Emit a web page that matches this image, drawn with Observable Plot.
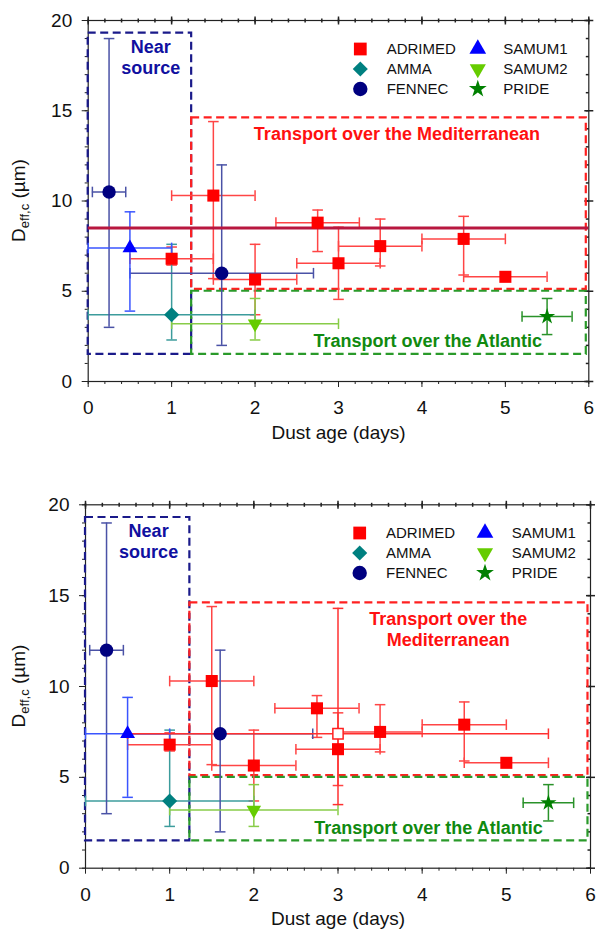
<!DOCTYPE html>
<html><head><meta charset="utf-8">
<script src="https://cdn.jsdelivr.net/npm/d3@7"></script>
<script src="https://cdn.jsdelivr.net/npm/@observablehq/plot@0.6"></script>
<style>
body{margin:0;background:#fff;}
#wrap{position:relative;width:611px;height:940px;font-family:"Liberation Sans",Arial,sans-serif;}
#wrap svg{display:block;}
</style></head><body><div id="wrap"></div>
<script>
// ---------------- data ----------------
const campaigns = ["ADRIMED","AMMA","FENNEC","SAMUM1","SAMUM2","PRIDE"];
const xMajorTicks = [0,1,2,3,4,5,6];
const yMajorTicks = [0,5,10,15,20];
const xMinorTicks = d3.range(0, 30.5, 1).map(i => i / 5);
const yMinorTicks = d3.range(0, 21, 1);

// ADRIMED
const adrimedAge    = [1, 1.5, 2, 2.75, 3, 3.5, 4.5, 5];
const adrimedAgeMin = [0.5, 1, 1.5, 2.25, 2.5, 3, 4, 4.5];
const adrimedAgeMax = [1.5, 2, 2.5, 3.25, 3.5, 4, 5, 5.5];
const adrimedD      = [6.8, 10.3, 5.65, 8.8, 6.55, 7.5, 7.9, 5.8];
const adrimedDMin   = [6.45, 5.7, 3.7, 7.2, 4.55, 6.4, 5.9, 5.8];
const adrimedDMax   = [7.45, 14.4, 7.6, 9.5, 8.55, 9.0, 9.15, 5.8];
// AMMA
const ammaAge = [1], ammaAgeMin = [0], ammaAgeMax = [2];
const ammaD = [3.7], ammaDMin = [2.3], ammaDMax = [7.6];
// FENNEC
const fennecAge = [0.25, 1.6], fennecAgeMin = [0.05, 0.5], fennecAgeMax = [0.45, 2.7];
const fennecDTop = [10.5, 6.0];
const fennecDBottom = [12.0, 7.4];
const fennecDMin = [3.0, 2.0], fennecDMax = [19.0, 12.0];
// SAMUM1
const samum1Age = [0.5], samum1AgeMin = [0], samum1AgeMax = [1];
const samum1D = [7.4], samum1DMin = [3.9], samum1DMax = [9.4];
// SAMUM2
const samum2Age = [2], samum2AgeMin = [1], samum2AgeMax = [3];
const samum2D = [3.2], samum2DMin = [2.3], samum2DMax = [4.6];
// PRIDE
const prideAge = [5.5], prideAgeMin = [5.2], prideAgeMax = [5.8];
const prideD = [3.6], prideDMin = [2.6], prideDMax = [4.6];
// ADRIMED mean (bottom panel, open square) and reference line (top panel)
const meanAge = [3], meanAgeMin = [0.5], meanAgeMax = [5.5];
const meanD = [7.4], meanDMin = [3.5], meanDMax = [14.3];
const referenceD = [8.5];

// regions (dashed boxes)
const regionAgeStart = [0, 1.24, 1.24];
const regionAgeEnd   = [1.24, 5.97, 5.97];
const regionDLow     = [1.5, 5.1, 1.5];
const regionDHigh    = [19.3, 14.6, 5.0];
// region labels
const regionTextTop    = ["Near\nsource", "Transport over the Mediterranean", "Transport over the Atlantic"];
const regionTextBottom = ["Near\nsource", "Transport over the\nMediterranean", "Transport over the Atlantic"];
const textAgeTop = [0.75, 3.70, 4.07], textDTop = [18, 13.74, 2.27];
const textAgeBottom = [0.75, 4.31, 4.075], textDBottom = [18, 13.2, 2.26];

// ---------------- styles ----------------
const FONT = '"Liberation Sans", Arial, sans-serif';
const regionStroke = ["#1a1a8a", "#ff2020", "#2a9a2a"];
const regionTextColor = ["#1010a0", "#ff1010", "#108a10"];

const hcap = {draw(c, s){ const r = Math.sqrt(s/Math.PI); c.moveTo(-r,0); c.lineTo(r,0); }};
const vcap = {draw(c, s){ const r = Math.sqrt(s/Math.PI); c.moveTo(0,-r); c.lineTo(0,r); }};
const hIn  = {draw(c, s){ const r = Math.sqrt(s/Math.PI); c.moveTo(-r,0); c.lineTo(0,0); }};
const triDown = {draw(c, s){
  const y = -Math.sqrt(s / (3*Math.sqrt(3)));
  c.moveTo(0, -2*y); c.lineTo(-Math.sqrt(3)*y, y); c.lineTo(Math.sqrt(3)*y, y); c.closePath();
}};

function rows(age, ageMin, ageMax, d, dMin, dMax){
  return age.map((a,i)=>({age:a, ageMin:ageMin[i], ageMax:ageMax[i], d:d[i], dMin:dMin[i], dMax:dMax[i]}));
}

function seriesFor(bottom){
  return [
    {name:"ADRIMED", rows: rows(adrimedAge, adrimedAgeMin, adrimedAgeMax, adrimedD, adrimedDMin, adrimedDMax),
      symbol:"square", d3sym:d3.symbolSquare, r:6.8, fill:"#ff0000", err:"#ff4545"},
    {name:"AMMA", rows: rows(ammaAge, ammaAgeMin, ammaAgeMax, ammaD, ammaDMin, ammaDMax),
      symbol:"diamond2", d3sym:d3.symbolDiamond2, r:6.8, fill:"#008080", err:"#3c9c9c"},
    {name:"FENNEC", rows: rows(fennecAge, fennecAgeMin, fennecAgeMax, bottom ? fennecDBottom : fennecDTop, fennecDMin, fennecDMax),
      symbol:"circle", d3sym:d3.symbolCircle, r:6.7, fill:"#000080", err:"#4a52a6"},
    {name:"SAMUM1", rows: rows(samum1Age, samum1AgeMin, samum1AgeMax, samum1D, samum1DMin, samum1DMax),
      symbol:"triangle", d3sym:d3.symbolTriangle, r:5.5, fill:"#0000ff", err:"#3a55ff"},
    {name:"SAMUM2", rows: rows(samum2Age, samum2AgeMin, samum2AgeMax, samum2D, samum2DMin, samum2DMax),
      symbol:triDown, d3sym:triDown, r:5.4, fill:"#66cc00", err:"#88cc48"},
    {name:"PRIDE", rows: rows(prideAge, prideAgeMin, prideAgeMax, prideD, prideDMin, prideDMax),
      symbol:"star", d3sym:d3.symbolStar, r:5.1, fill:"#008000", err:"#2a922a"}
  ];
}

function errorMarks(data, color, width){
  const v = data.filter(d => d.dMax > d.dMin);
  const h = data.filter(d => d.ageMax > d.ageMin);
  return [
    Plot.ruleX(v, {x:"age", y1:"dMin", y2:"dMax", stroke:color, strokeWidth:width}),
    Plot.ruleY(h, {y:"d", x1:"ageMin", x2:"ageMax", stroke:color, strokeWidth:width}),
    Plot.dot(v, {x:"age", y:"dMax", symbol:hcap, r:5.3, stroke:color, fill:"none", strokeWidth:width}),
    Plot.dot(v, {x:"age", y:"dMin", symbol:hcap, r:5.3, stroke:color, fill:"none", strokeWidth:width}),
    Plot.dot(h, {x:"ageMin", y:"d", symbol:vcap, r:5.3, stroke:color, fill:"none", strokeWidth:width}),
    Plot.dot(h, {x:"ageMax", y:"d", symbol:vcap, r:5.3, stroke:color, fill:"none", strokeWidth:width})
  ];
}

function panel(cfg){
  const series = seriesFor(cfg.bottom);
  const regions = regionAgeStart.map((a,i)=>({x1:a, x2:regionAgeEnd[i], y1:regionDLow[i], y2:regionDHigh[i], i}));
  const texts = cfg.texts.map((t,i)=>({t, x:cfg.tx[i], y:cfg.ty[i], i}));
  const marks = [
    Plot.frame({stroke:"#222", strokeWidth:1.2}),
    Plot.axisX(xMajorTicks, {anchor:"bottom", tickSize:6, tickPadding:13, fontSize:19, label:null, stroke:"#222", fill:"#111"}),
    Plot.axisX(xMinorTicks, {anchor:"bottom", tickSize:3, tickFormat:()=>"", label:null, stroke:"#222"}),
    Plot.axisY(yMajorTicks, {anchor:"left", tickSize:6, tickPadding:10, fontSize:19, label:null, stroke:"#222", fill:"#111"}),
    Plot.axisY(yMinorTicks, {anchor:"left", tickSize:3, tickFormat:()=>"", label:null, stroke:"#222"}),
    Plot.dot(yMajorTicks, {y:d=>d, frameAnchor:"right", symbol:hcap, r:4.5, stroke:"#222", fill:"none"}),
    Plot.dot(yMinorTicks, {y:d=>d, frameAnchor:"right", symbol:hIn, r:3, stroke:"#222", fill:"none"}),
    Plot.dot(xMajorTicks, {x:d=>d, frameAnchor:"top", symbol:vcap, r:4, stroke:"#222", fill:"none"}),
    Plot.dot(xMinorTicks, {x:d=>d, frameAnchor:"top", symbol:vcap, r:2, stroke:"#222", fill:"none"}),
    ...regions.map(g => Plot.rect([g], {x1:"x1", x2:"x2", y1:"y1", y2:"y2", fill:"none",
      stroke:regionStroke[g.i], strokeWidth:2.2, strokeDasharray:"8,4.5"})),
    ...texts.map(t => Plot.text([t], {x:"x", y:"y", text:"t", fill:regionTextColor[t.i], fontSize:18,
      fontWeight:"bold", lineHeight:1.17, textAnchor:"middle", fontFamily:FONT})),
    Plot.text(["Dust age (days)"], {frameAnchor:"bottom", dy:57, fontSize:19, fill:"#111", fontFamily:FONT})
  ];
  series.forEach(s => marks.push(...errorMarks(s.rows, s.err, 1.5)));
  if (cfg.bottom) {
    marks.push(...errorMarks(rows(meanAge, meanAgeMin, meanAgeMax, meanD, meanDMin, meanDMax), "#ff3030", 1.5));
  } else {
    marks.push(Plot.ruleY(referenceD, {stroke:"#b8173f", strokeWidth:3, ariaLabel:"reference-line"}));
  }
  series.forEach(s => marks.push(Plot.dot(s.rows, {x:"age", y:"d", symbol:s.symbol, r:s.r, fill:s.fill, stroke:"none"})));
  if (cfg.bottom) {
    marks.push(Plot.dot(rows(meanAge, meanAgeMin, meanAgeMax, meanD, meanDMin, meanDMax),
      {x:"age", y:"d", symbol:"square", r:5.8, fill:"white", stroke:"#ff2020", strokeWidth:1.5}));
  }
  const svg = Plot.plot({
    width:611, height:cfg.height,
    marginTop:cfg.mt, marginBottom:cfg.mb, marginLeft:cfg.ml, marginRight:cfg.mr,
    x:{domain:[0,6]}, y:{domain:[0,20]},
    style:{fontFamily:FONT, fontSize:"19px", overflow:"visible", background:"white"},
    marks
  });
  const sel = d3.select(svg);
  sel.selectAll('g[aria-label="x-axis tick label"], g[aria-label="y-axis tick label"]').attr("font-size", 19);
  if (!cfg.bottom) {
    sel.selectAll('g[aria-label="reference-line"] line').attr("x1", 6).attr("x2", 611);
  }
  // y-axis label with subscript
  const cy = (cfg.mt + (cfg.height - cfg.mb)) / 2;
  const t = sel.append("text").attr("transform", `translate(25,${cy}) rotate(-90)`)
    .attr("text-anchor","middle").attr("font-size",19).attr("font-family",FONT).attr("fill","#111");
  t.append("tspan").text("D");
  t.append("tspan").attr("font-size",13).attr("dy",4).text("eff,c");
  t.append("tspan").attr("dy",-4).text("\u00a0(\u00b5m)");
  // legend
  const lg = sel.append("g").attr("font-family",FONT).attr("font-size",15).attr("fill","#111").attr("text-anchor","start");
  const legendSize = {ADRIMED:7.2, AMMA:6.8, FENNEC:7.2, SAMUM1:6.2, SAMUM2:6.0, PRIDE:5.6};
  series.forEach((s,i)=>{
    const col = Math.floor(i/3), row = i % 3;
    const mx = cfg.legMarkX[col], tx = cfg.legTextX[col], y = 49 + row*20;
    const rr = legendSize[s.name];
    lg.append("path").attr("d", d3.symbol(s.d3sym, Math.PI*rr*rr)()).attr("transform",`translate(${mx},${y})`).attr("fill", s.fill);
    lg.append("text").attr("x", tx).attr("y", y).attr("dy","0.35em").attr("text-anchor","start").text(s.name);
  });
  return svg;
}

const wrap = document.getElementById("wrap");
wrap.appendChild(panel({bottom:false, height:484, mt:20, mb:103, ml:87.7, mr:22.7,
  texts:regionTextTop, tx:textAgeTop, ty:textDTop, legMarkX:[360.3,477.8], legTextX:[386.7,503.3]}));
wrap.appendChild(panel({bottom:true, height:456, mt:20.3, mb:72.3, ml:85, mr:21,
  texts:regionTextBottom, tx:textAgeBottom, ty:textDBottom, legMarkX:[359.7,485], legTextX:[386,511.7]}));
</script>
</body></html>
